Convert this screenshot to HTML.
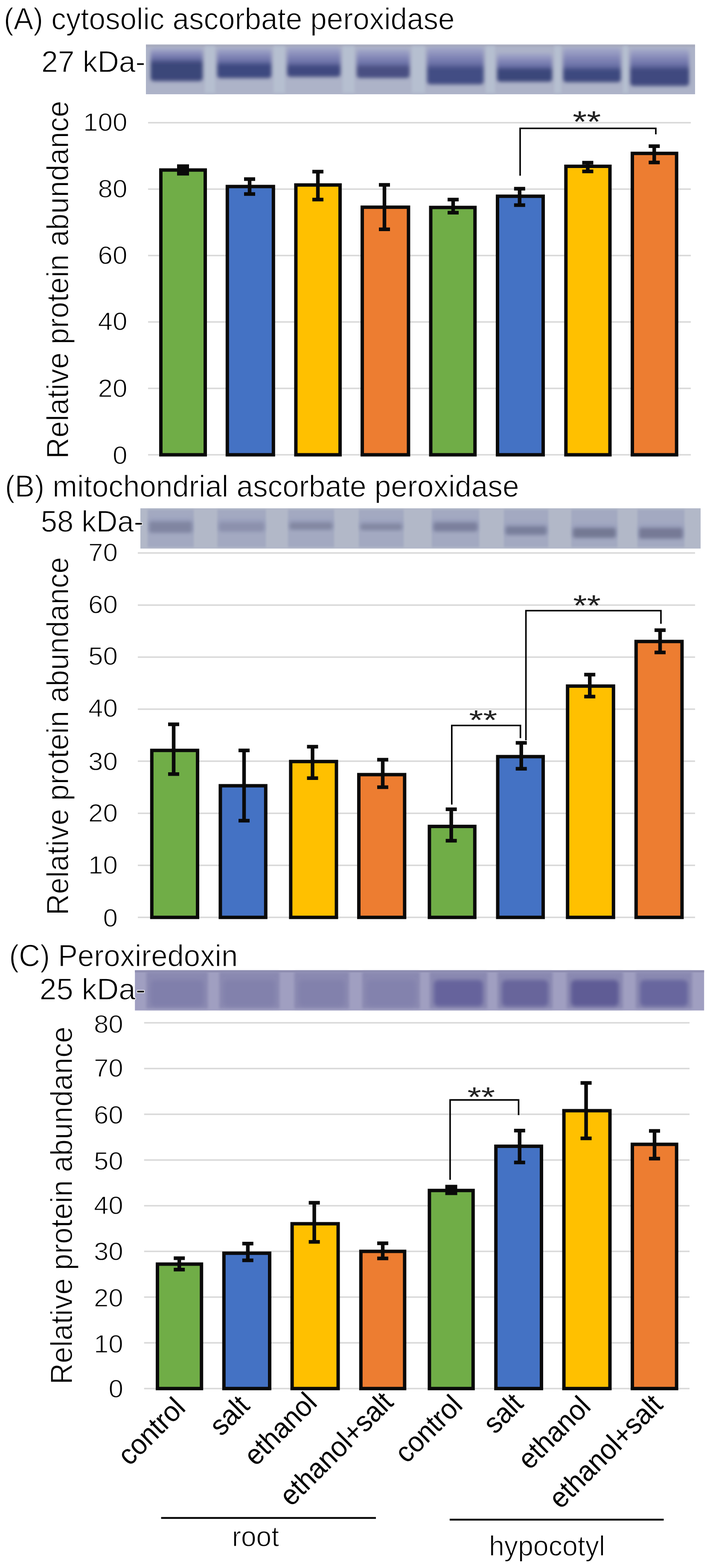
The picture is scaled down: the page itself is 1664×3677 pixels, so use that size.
<!DOCTYPE html>
<html><head><meta charset="utf-8"><title>Figure</title>
<style>html,body{margin:0;padding:0;background:#fff;}svg{display:block;}</style></head>
<body>
<svg width="1664" height="3677" viewBox="0 0 1664 3677">
<defs>
<filter id="blur3" x="-20%" y="-40%" width="140%" height="180%"><feGaussianBlur stdDeviation="3"/></filter>
<filter id="blur2" x="-20%" y="-40%" width="140%" height="180%"><feGaussianBlur stdDeviation="2"/></filter>
<filter id="blur4" x="-20%" y="-40%" width="140%" height="180%"><feGaussianBlur stdDeviation="3.5"/></filter>
<filter id="thin" x="0" y="0" width="100%" height="100%" filterUnits="userSpaceOnUse"><feMorphology operator="erode" radius="0.25"/></filter>
<filter id="blur45" x="-20%" y="-40%" width="140%" height="180%"><feGaussianBlur stdDeviation="4.2"/></filter>
<filter id="blur5" x="-20%" y="-40%" width="140%" height="180%"><feGaussianBlur stdDeviation="5"/></filter>
<linearGradient id="bandA" x1="0" y1="0" x2="0" y2="1">
 <stop offset="0" stop-color="#9aa0c4" stop-opacity="0.3"/>
 <stop offset="0.3" stop-color="#7b80ac"/>
 <stop offset="0.55" stop-color="#4a5288"/>
 <stop offset="0.8" stop-color="#3a4373"/>
 <stop offset="1" stop-color="#4a5080"/>
</linearGradient>
<linearGradient id="bandB" x1="0" y1="0" x2="0" y2="1">
 <stop offset="0" stop-color="#a0a5c0" stop-opacity="0"/>
 <stop offset="0.45" stop-color="#8a8fae"/>
 <stop offset="0.7" stop-color="#757a9c"/>
 <stop offset="1" stop-color="#9aa0bc" stop-opacity="0"/>
</linearGradient>
</defs>
<rect width="1664" height="3677" fill="#fff"/>
<line x1="347" y1="1066.5" x2="1619" y2="1066.5" stroke="#d9d9d9" stroke-width="3.5"/>
<line x1="347" y1="910.8" x2="1619" y2="910.8" stroke="#d9d9d9" stroke-width="3.5"/>
<line x1="347" y1="755.0" x2="1619" y2="755.0" stroke="#d9d9d9" stroke-width="3.5"/>
<line x1="347" y1="599.3" x2="1619" y2="599.3" stroke="#d9d9d9" stroke-width="3.5"/>
<line x1="347" y1="443.5" x2="1619" y2="443.5" stroke="#d9d9d9" stroke-width="3.5"/>
<line x1="347" y1="287.8" x2="1619" y2="287.8" stroke="#d9d9d9" stroke-width="3.5"/>
<rect x="377.0" y="398.7" width="104.0" height="667.8" fill="#70ad47" stroke="#0a0a0a" stroke-width="8"/>
<rect x="532.8" y="437.4" width="108.0" height="629.1" fill="#4472c4" stroke="#0a0a0a" stroke-width="8"/>
<rect x="693.4" y="433.8" width="103.6" height="632.7" fill="#ffc000" stroke="#0a0a0a" stroke-width="8"/>
<rect x="849.0" y="485.9" width="108.4" height="580.6" fill="#ed7d31" stroke="#0a0a0a" stroke-width="8"/>
<rect x="1009.5" y="486.5" width="103.7" height="580.0" fill="#70ad47" stroke="#0a0a0a" stroke-width="8"/>
<rect x="1166.0" y="460.2" width="107.0" height="606.3" fill="#4472c4" stroke="#0a0a0a" stroke-width="8"/>
<rect x="1326.3" y="390.0" width="103.2" height="676.5" fill="#ffc000" stroke="#0a0a0a" stroke-width="8"/>
<rect x="1482.0" y="359.7" width="103.7" height="706.8" fill="#ed7d31" stroke="#0a0a0a" stroke-width="8"/>
<rect x="415.0" y="385.4" width="28" height="26.2" fill="#0a0a0a"/>
<path d="M572.0 420.0H598.0M585.0 420.0V455.0M572.0 455.0H598.0" stroke="#0a0a0a" stroke-width="8.5" fill="none"/>
<path d="M732.0 402.5H758.0M745.0 402.5V468.0M732.0 468.0H758.0" stroke="#0a0a0a" stroke-width="8.5" fill="none"/>
<path d="M888.0 433.5H914.0M901.0 433.5V537.7M888.0 537.7H914.0" stroke="#0a0a0a" stroke-width="8.5" fill="none"/>
<path d="M1049.0 468.0H1075.0M1062.0 468.0V498.8M1049.0 498.8H1075.0" stroke="#0a0a0a" stroke-width="8.5" fill="none"/>
<path d="M1204.8 442.4H1230.8M1217.8 442.4V481.0M1204.8 481.0H1230.8" stroke="#0a0a0a" stroke-width="8.5" fill="none"/>
<path d="M1364.5 381.4H1390.5M1377.5 381.4V401.9M1364.5 401.9H1390.5" stroke="#0a0a0a" stroke-width="8.5" fill="none"/>
<path d="M1520.3 342.7H1546.3M1533.3 342.7V381.0M1520.3 381.0H1546.3" stroke="#0a0a0a" stroke-width="8.5" fill="none"/>
<path d="M1219 412V301H1537V315" stroke="#000" stroke-width="3.6" fill="none"/>
<line x1="323" y1="2151.3" x2="1629" y2="2151.3" stroke="#d9d9d9" stroke-width="3.5"/>
<line x1="323" y1="2029.2" x2="1629" y2="2029.2" stroke="#d9d9d9" stroke-width="3.5"/>
<line x1="323" y1="1907.2" x2="1629" y2="1907.2" stroke="#d9d9d9" stroke-width="3.5"/>
<line x1="323" y1="1785.1" x2="1629" y2="1785.1" stroke="#d9d9d9" stroke-width="3.5"/>
<line x1="323" y1="1663.0" x2="1629" y2="1663.0" stroke="#d9d9d9" stroke-width="3.5"/>
<line x1="323" y1="1541.0" x2="1629" y2="1541.0" stroke="#d9d9d9" stroke-width="3.5"/>
<line x1="323" y1="1418.9" x2="1629" y2="1418.9" stroke="#d9d9d9" stroke-width="3.5"/>
<line x1="323" y1="1296.8" x2="1629" y2="1296.8" stroke="#d9d9d9" stroke-width="3.5"/>
<rect x="355.8" y="1759.7" width="107.2" height="391.6" fill="#70ad47" stroke="#0a0a0a" stroke-width="8"/>
<rect x="516.4" y="1842.6" width="106.4" height="308.7" fill="#4472c4" stroke="#0a0a0a" stroke-width="8"/>
<rect x="681.3" y="1785.8" width="107.2" height="365.5" fill="#ffc000" stroke="#0a0a0a" stroke-width="8"/>
<rect x="841.0" y="1816.5" width="107.3" height="334.8" fill="#ed7d31" stroke="#0a0a0a" stroke-width="8"/>
<rect x="1006.4" y="1938.0" width="106.4" height="213.3" fill="#70ad47" stroke="#0a0a0a" stroke-width="8"/>
<rect x="1166.5" y="1774.3" width="106.5" height="377.0" fill="#4472c4" stroke="#0a0a0a" stroke-width="8"/>
<rect x="1330.2" y="1608.9" width="107.6" height="542.4" fill="#ffc000" stroke="#0a0a0a" stroke-width="8"/>
<rect x="1490.8" y="1504.3" width="107.6" height="647.0" fill="#ed7d31" stroke="#0a0a0a" stroke-width="8"/>
<path d="M394.0 1698.5H420.0M407.0 1698.5V1815.3M394.0 1815.3H420.0" stroke="#0a0a0a" stroke-width="8.5" fill="none"/>
<path d="M559.0 1759.7H585.0M572.0 1759.7V1924.6M559.0 1924.6H585.0" stroke="#0a0a0a" stroke-width="8.5" fill="none"/>
<path d="M719.5 1751.0H745.5M732.5 1751.0V1824.8M719.5 1824.8H745.5" stroke="#0a0a0a" stroke-width="8.5" fill="none"/>
<path d="M884.0 1781.4H910.0M897.0 1781.4V1846.0M884.0 1846.0H910.0" stroke="#0a0a0a" stroke-width="8.5" fill="none"/>
<path d="M1044.6 1897.7H1070.6M1057.6 1897.7V1971.5M1044.6 1971.5H1070.6" stroke="#0a0a0a" stroke-width="8.5" fill="none"/>
<path d="M1208.7 1742.0H1234.7M1221.7 1742.0V1802.7M1208.7 1802.7H1234.7" stroke="#0a0a0a" stroke-width="8.5" fill="none"/>
<path d="M1369.2 1582.0H1395.2M1382.2 1582.0V1633.6M1369.2 1633.6H1395.2" stroke="#0a0a0a" stroke-width="8.5" fill="none"/>
<path d="M1534.0 1477.8H1560.0M1547.0 1477.8V1530.0M1534.0 1530.0H1560.0" stroke="#0a0a0a" stroke-width="8.5" fill="none"/>
<path d="M1058.8 1886.7V1701.3H1219.7V1731" stroke="#000" stroke-width="3.6" fill="none"/>
<path d="M1232.6 1736V1432H1549V1462.8" stroke="#000" stroke-width="3.6" fill="none"/>
<line x1="337.7" y1="3256.2" x2="1616" y2="3256.2" stroke="#d9d9d9" stroke-width="3.5"/>
<line x1="337.7" y1="3149.0" x2="1616" y2="3149.0" stroke="#d9d9d9" stroke-width="3.5"/>
<line x1="337.7" y1="3041.8" x2="1616" y2="3041.8" stroke="#d9d9d9" stroke-width="3.5"/>
<line x1="337.7" y1="2934.6" x2="1616" y2="2934.6" stroke="#d9d9d9" stroke-width="3.5"/>
<line x1="337.7" y1="2827.4" x2="1616" y2="2827.4" stroke="#d9d9d9" stroke-width="3.5"/>
<line x1="337.7" y1="2720.2" x2="1616" y2="2720.2" stroke="#d9d9d9" stroke-width="3.5"/>
<line x1="337.7" y1="2613.0" x2="1616" y2="2613.0" stroke="#d9d9d9" stroke-width="3.5"/>
<line x1="337.7" y1="2505.8" x2="1616" y2="2505.8" stroke="#d9d9d9" stroke-width="3.5"/>
<line x1="337.7" y1="2398.6" x2="1616" y2="2398.6" stroke="#d9d9d9" stroke-width="3.5"/>
<rect x="369.0" y="2964.4" width="103.2" height="291.8" fill="#70ad47" stroke="#0a0a0a" stroke-width="8"/>
<rect x="524.8" y="2938.8" width="107.2" height="317.4" fill="#4472c4" stroke="#0a0a0a" stroke-width="8"/>
<rect x="684.6" y="2869.7" width="107.9" height="386.5" fill="#ffc000" stroke="#0a0a0a" stroke-width="8"/>
<rect x="845.8" y="2934.5" width="102.5" height="321.7" fill="#ed7d31" stroke="#0a0a0a" stroke-width="8"/>
<rect x="1006.4" y="2791.7" width="102.4" height="464.5" fill="#70ad47" stroke="#0a0a0a" stroke-width="8"/>
<rect x="1162.2" y="2688.0" width="106.8" height="568.2" fill="#4472c4" stroke="#0a0a0a" stroke-width="8"/>
<rect x="1321.6" y="2604.6" width="107.9" height="651.6" fill="#ffc000" stroke="#0a0a0a" stroke-width="8"/>
<rect x="1482.0" y="2683.5" width="103.7" height="572.7" fill="#ed7d31" stroke="#0a0a0a" stroke-width="8"/>
<path d="M407.2 2950.6H433.2M420.2 2950.6V2977.3M407.2 2977.3H433.2" stroke="#0a0a0a" stroke-width="8.5" fill="none"/>
<path d="M567.8 2916.3H593.8M580.8 2916.3V2955.6M567.8 2955.6H593.8" stroke="#0a0a0a" stroke-width="8.5" fill="none"/>
<path d="M723.6 2820.4H749.6M736.6 2820.4V2912.2M723.6 2912.2H749.6" stroke="#0a0a0a" stroke-width="8.5" fill="none"/>
<path d="M884.0 2915.6H910.0M897.0 2915.6V2951.0M884.0 2951.0H910.0" stroke="#0a0a0a" stroke-width="8.5" fill="none"/>
<rect x="1043.6" y="2778.4" width="28" height="24.1" fill="#0a0a0a"/>
<path d="M1204.8 2651.3H1230.8M1217.8 2651.3V2726.1M1204.8 2726.1H1230.8" stroke="#0a0a0a" stroke-width="8.5" fill="none"/>
<path d="M1360.6 2539.5H1386.6M1373.6 2539.5V2669.6M1360.6 2669.6H1386.6" stroke="#0a0a0a" stroke-width="8.5" fill="none"/>
<path d="M1521.0 2652.0H1547.0M1534.0 2652.0V2717.0M1521.0 2717.0H1547.0" stroke="#0a0a0a" stroke-width="8.5" fill="none"/>
<path d="M1054.9 2766.8V2579.4H1215.4V2615" stroke="#000" stroke-width="3.6" fill="none"/>
<rect x="342" y="104.5" width="1287" height="116.5" fill="#adb3c8"/>
<rect x="342" y="104.5" width="1287" height="6" fill="#a7abbd" opacity="0.8"/>
<rect x="480" y="108" width="24" height="110" fill="#b6bfd0" filter="url(#blur3)"/>
<rect x="641" y="108" width="27" height="110" fill="#b6bfd0" filter="url(#blur3)"/>
<rect x="803" y="108" width="28" height="110" fill="#b6bfd0" filter="url(#blur3)"/>
<rect x="965" y="108" width="31" height="110" fill="#b6bfd0" filter="url(#blur3)"/>
<rect x="1138.5" y="108" width="21.5" height="110" fill="#b6bfd0" filter="url(#blur3)"/>
<rect x="1299" y="108" width="16" height="110" fill="#b6bfd0" filter="url(#blur3)"/>
<rect x="1460" y="108" width="12" height="110" fill="#b6bfd0" filter="url(#blur3)"/>
<linearGradient id="gA0" x1="0" y1="0" x2="0" y2="1"><stop offset="0" stop-color="#9ca1c8" stop-opacity="0.6"/><stop offset="0.154" stop-color="#888cba"/><stop offset="0.307" stop-color="#6c72a8"/><stop offset="0.457" stop-color="#3b4679"/><stop offset="0.9" stop-color="#3b4679"/><stop offset="1" stop-color="#4a5283"/></linearGradient>
<rect x="353" y="113.6" width="122" height="76.80000000000001" rx="7" fill="url(#gA0)" filter="url(#blur45)"/>
<linearGradient id="gA1" x1="0" y1="0" x2="0" y2="1"><stop offset="0" stop-color="#9ca1c8" stop-opacity="0.6"/><stop offset="0.216" stop-color="#888cba"/><stop offset="0.432" stop-color="#6c72a8"/><stop offset="0.582" stop-color="#3c4880"/><stop offset="0.9" stop-color="#3c4880"/><stop offset="1" stop-color="#4a5283"/></linearGradient>
<rect x="509" y="113" width="127" height="70.5" rx="7" fill="url(#gA1)" filter="url(#blur45)"/>
<linearGradient id="gA2" x1="0" y1="0" x2="0" y2="1"><stop offset="0" stop-color="#9ca1c8" stop-opacity="0.6"/><stop offset="0.259" stop-color="#888cba"/><stop offset="0.517" stop-color="#6c72a8"/><stop offset="0.667" stop-color="#414a80"/><stop offset="0.9" stop-color="#414a80"/><stop offset="1" stop-color="#4a5283"/></linearGradient>
<rect x="673" y="110" width="125" height="70.6" rx="7" fill="url(#gA2)" filter="url(#blur45)"/>
<linearGradient id="gA3" x1="0" y1="0" x2="0" y2="1"><stop offset="0" stop-color="#9ca1c8" stop-opacity="0.6"/><stop offset="0.250" stop-color="#888cba"/><stop offset="0.500" stop-color="#6c72a8"/><stop offset="0.650" stop-color="#494f82"/><stop offset="0.9" stop-color="#494f82"/><stop offset="1" stop-color="#4a5283"/></linearGradient>
<rect x="836" y="115" width="124" height="68" rx="7" fill="url(#gA3)" filter="url(#blur45)"/>
<linearGradient id="gA4" x1="0" y1="0" x2="0" y2="1"><stop offset="0" stop-color="#9ca1c8" stop-opacity="0.6"/><stop offset="0.221" stop-color="#888cba"/><stop offset="0.442" stop-color="#6c72a8"/><stop offset="0.592" stop-color="#434d84"/><stop offset="0.9" stop-color="#434d84"/><stop offset="1" stop-color="#4a5283"/></linearGradient>
<rect x="1001" y="110" width="132.5" height="88" rx="7" fill="url(#gA4)" filter="url(#blur45)"/>
<linearGradient id="gA5" x1="0" y1="0" x2="0" y2="1"><stop offset="0" stop-color="#9ca1c8" stop-opacity="0.6"/><stop offset="0.223" stop-color="#888cba"/><stop offset="0.446" stop-color="#6c72a8"/><stop offset="0.596" stop-color="#3b467a"/><stop offset="0.9" stop-color="#3b467a"/><stop offset="1" stop-color="#4a5283"/></linearGradient>
<rect x="1165" y="125" width="129" height="67" rx="7" fill="url(#gA5)" filter="url(#blur45)"/>
<linearGradient id="gA6" x1="0" y1="0" x2="0" y2="1"><stop offset="0" stop-color="#9ca1c8" stop-opacity="0.6"/><stop offset="0.259" stop-color="#888cba"/><stop offset="0.519" stop-color="#6c72a8"/><stop offset="0.669" stop-color="#3d497f"/><stop offset="0.9" stop-color="#3d497f"/><stop offset="1" stop-color="#4a5283"/></linearGradient>
<rect x="1320" y="112" width="135" height="81" rx="7" fill="url(#gA6)" filter="url(#blur45)"/>
<linearGradient id="gA7" x1="0" y1="0" x2="0" y2="1"><stop offset="0" stop-color="#9ca1c8" stop-opacity="0.6"/><stop offset="0.210" stop-color="#888cba"/><stop offset="0.419" stop-color="#6c72a8"/><stop offset="0.569" stop-color="#404a7f"/><stop offset="0.9" stop-color="#404a7f"/><stop offset="1" stop-color="#4a5283"/></linearGradient>
<rect x="1477" y="115" width="138" height="86.69999999999999" rx="7" fill="url(#gA7)" filter="url(#blur45)"/>
<rect x="329" y="1192" width="1313" height="94.4" fill="#b2b8c8"/>
<rect x="346" y="1195" width="108" height="88" fill="#a3a9c1" filter="url(#blur2)"/>
<rect x="349" y="1214" width="102" height="35" rx="5" fill="#9aa0bd" opacity="0.8" filter="url(#blur45)"/>
<rect x="350" y="1223" width="100" height="26" rx="5" fill="#7e839f" opacity="0.9" filter="url(#blur45)"/>
<rect x="509.5" y="1195" width="113.5" height="88" fill="#a3a9c1" filter="url(#blur2)"/>
<rect x="512.5" y="1216" width="107.5" height="30" rx="5" fill="#9aa0bd" opacity="0.8" filter="url(#blur45)"/>
<rect x="513.5" y="1225" width="105.5" height="21" rx="5" fill="#8a8fab" opacity="0.9" filter="url(#blur45)"/>
<rect x="675" y="1195" width="108" height="88" fill="#a3a9c1" filter="url(#blur2)"/>
<rect x="678" y="1216" width="102" height="26" rx="5" fill="#9aa0bd" opacity="0.8" filter="url(#blur45)"/>
<rect x="679" y="1225" width="100" height="17" rx="5" fill="#80859f" opacity="0.9" filter="url(#blur45)"/>
<rect x="841" y="1195" width="105" height="88" fill="#a3a9c1" filter="url(#blur2)"/>
<rect x="844" y="1219" width="99" height="24" rx="5" fill="#9aa0bd" opacity="0.8" filter="url(#blur45)"/>
<rect x="845" y="1228" width="97" height="15" rx="5" fill="#80859f" opacity="0.9" filter="url(#blur45)"/>
<rect x="1012" y="1195" width="111" height="88" fill="#a3a9c1" filter="url(#blur2)"/>
<rect x="1015" y="1216" width="105" height="30" rx="5" fill="#9aa0bd" opacity="0.8" filter="url(#blur45)"/>
<rect x="1016" y="1225" width="103" height="21" rx="5" fill="#787d9a" opacity="0.9" filter="url(#blur45)"/>
<rect x="1181" y="1195" width="104" height="88" fill="#a3a9c1" filter="url(#blur2)"/>
<rect x="1184" y="1225" width="98" height="29" rx="5" fill="#9aa0bd" opacity="0.8" filter="url(#blur45)"/>
<rect x="1185" y="1234" width="96" height="20" rx="5" fill="#767b98" opacity="0.9" filter="url(#blur45)"/>
<rect x="1339" y="1195" width="108" height="88" fill="#a3a9c1" filter="url(#blur2)"/>
<rect x="1342" y="1229" width="102" height="32" rx="5" fill="#9aa0bd" opacity="0.8" filter="url(#blur45)"/>
<rect x="1343" y="1238" width="100" height="23" rx="5" fill="#70748f" opacity="0.9" filter="url(#blur45)"/>
<rect x="1494" y="1195" width="110" height="88" fill="#a3a9c1" filter="url(#blur2)"/>
<rect x="1497" y="1229" width="104" height="34" rx="5" fill="#9aa0bd" opacity="0.8" filter="url(#blur45)"/>
<rect x="1498" y="1238" width="102" height="25" rx="5" fill="#727692" opacity="0.9" filter="url(#blur45)"/>
<rect x="316.2" y="2275.3" width="1334" height="94.3" fill="#a09fc1"/>
<rect x="316.2" y="2275.3" width="1334" height="5" fill="#8f8eb0"/>
<rect x="343" y="2279" width="144" height="86" fill="#8a89b1" filter="url(#blur3)"/>
<rect x="353" y="2298" width="124" height="62" rx="10" fill="#807fab" filter="url(#blur5)"/>
<rect x="514" y="2279" width="141" height="86" fill="#8a89b1" filter="url(#blur3)"/>
<rect x="524" y="2298" width="121" height="62" rx="10" fill="#8281ac" filter="url(#blur5)"/>
<rect x="690" y="2279" width="128" height="86" fill="#8a89b1" filter="url(#blur3)"/>
<rect x="700" y="2298" width="108" height="62" rx="10" fill="#8281ac" filter="url(#blur5)"/>
<rect x="849" y="2279" width="135" height="86" fill="#8a89b1" filter="url(#blur3)"/>
<rect x="859" y="2298" width="115" height="62" rx="10" fill="#8382ad" filter="url(#blur5)"/>
<rect x="1007" y="2279" width="135" height="86" fill="#8a89b1" filter="url(#blur3)"/>
<rect x="1017" y="2298" width="115" height="62" rx="10" fill="#66649c" filter="url(#blur5)"/>
<rect x="1166" y="2279" width="129" height="86" fill="#8a89b1" filter="url(#blur3)"/>
<rect x="1176" y="2298" width="109" height="62" rx="10" fill="#67659b" filter="url(#blur5)"/>
<rect x="1328" y="2279" width="132" height="86" fill="#8a89b1" filter="url(#blur3)"/>
<rect x="1338" y="2298" width="112" height="62" rx="10" fill="#5e5c95" filter="url(#blur5)"/>
<rect x="1490" y="2279" width="132" height="86" fill="#8a89b1" filter="url(#blur3)"/>
<rect x="1500" y="2298" width="112" height="62" rx="10" fill="#68669e" filter="url(#blur5)"/>
<line x1="377.6" y1="3559.6" x2="881" y2="3559.6" stroke="#000" stroke-width="4.2"/>
<line x1="1053.9" y1="3563.6" x2="1555.5" y2="3563.6" stroke="#000" stroke-width="4.2"/>
<g font-family="Liberation Sans, Arial, sans-serif" fill="#000" stroke="#fff" stroke-width="1.3" stroke-linejoin="round">
<text x="8.9" y="68.6" font-size="71.5" textLength="1056.6" lengthAdjust="spacingAndGlyphs" fill="#000" >(A) cytosolic ascorbate peroxidase</text>
<text x="11.8" y="1165.3" font-size="71.5" textLength="1204.7" lengthAdjust="spacingAndGlyphs" fill="#000" >(B) mitochondrial ascorbate peroxidase</text>
<text x="21.4" y="2265.5" font-size="71.5" textLength="535.8" lengthAdjust="spacingAndGlyphs" fill="#000" >(C) Peroxiredoxin</text>
<text x="96.9" y="169.0" font-size="71" textLength="243.9" lengthAdjust="spacingAndGlyphs" fill="#000" >27 kDa-</text>
<text x="95.7" y="1247.4" font-size="71" textLength="240.8" lengthAdjust="spacingAndGlyphs" fill="#000" >58 kDa-</text>
<text x="92.7" y="2343.7" font-size="71" textLength="248.6" lengthAdjust="spacingAndGlyphs" fill="#000" >25 kDa-</text>
<g transform="translate(160.3,1070.3) rotate(-90)"><text x="-5.5" y="0" font-size="73" textLength="839.4" lengthAdjust="spacingAndGlyphs">Relative protein abundance</text></g>
<g transform="translate(160.3,2140.7) rotate(-90)"><text x="-5.5" y="0" font-size="73" textLength="839.8" lengthAdjust="spacingAndGlyphs">Relative protein abundance</text></g>
<g transform="translate(168.8,3241.1) rotate(-90)"><text x="-5.5" y="0" font-size="73" textLength="839.3" lengthAdjust="spacingAndGlyphs">Relative protein abundance</text></g>
<text x="264.0" y="1087.5" font-size="59" textLength="34.5" lengthAdjust="spacingAndGlyphs" fill="#000" >0</text>
<text x="229.5" y="930.8" font-size="59" textLength="68.9" lengthAdjust="spacingAndGlyphs" fill="#000" >20</text>
<text x="229.5" y="774.3" font-size="59" textLength="68.9" lengthAdjust="spacingAndGlyphs" fill="#000" >40</text>
<text x="229.5" y="619.3" font-size="59" textLength="68.9" lengthAdjust="spacingAndGlyphs" fill="#000" >60</text>
<text x="229.5" y="462.9" font-size="59" textLength="68.9" lengthAdjust="spacingAndGlyphs" fill="#000" >80</text>
<text x="195.1" y="306.6" font-size="59" textLength="103.4" lengthAdjust="spacingAndGlyphs" fill="#000" >100</text>
<text x="241.6" y="2172.5" font-size="59" textLength="34.5" lengthAdjust="spacingAndGlyphs" fill="#000" >0</text>
<text x="207.1" y="2048.6" font-size="59" textLength="68.9" lengthAdjust="spacingAndGlyphs" fill="#000" >10</text>
<text x="207.1" y="1927.0" font-size="59" textLength="68.9" lengthAdjust="spacingAndGlyphs" fill="#000" >20</text>
<text x="207.1" y="1805.8" font-size="59" textLength="68.9" lengthAdjust="spacingAndGlyphs" fill="#000" >30</text>
<text x="207.1" y="1680.7" font-size="59" textLength="68.9" lengthAdjust="spacingAndGlyphs" fill="#000" >40</text>
<text x="207.1" y="1559.4" font-size="59" textLength="68.9" lengthAdjust="spacingAndGlyphs" fill="#000" >50</text>
<text x="207.1" y="1437.5" font-size="59" textLength="68.9" lengthAdjust="spacingAndGlyphs" fill="#000" >60</text>
<text x="207.1" y="1316.4" font-size="59" textLength="68.9" lengthAdjust="spacingAndGlyphs" fill="#000" >70</text>
<text x="254.4" y="3277.2" font-size="59" textLength="34.5" lengthAdjust="spacingAndGlyphs" fill="#000" >0</text>
<text x="219.9" y="3171.8" font-size="59" textLength="68.9" lengthAdjust="spacingAndGlyphs" fill="#000" >10</text>
<text x="219.9" y="3063.5" font-size="59" textLength="68.9" lengthAdjust="spacingAndGlyphs" fill="#000" >20</text>
<text x="219.9" y="2955.3" font-size="59" textLength="68.9" lengthAdjust="spacingAndGlyphs" fill="#000" >30</text>
<text x="219.9" y="2846.8" font-size="59" textLength="68.9" lengthAdjust="spacingAndGlyphs" fill="#000" >40</text>
<text x="219.9" y="2742.5" font-size="59" textLength="68.9" lengthAdjust="spacingAndGlyphs" fill="#000" >50</text>
<text x="219.9" y="2634.5" font-size="59" textLength="68.9" lengthAdjust="spacingAndGlyphs" fill="#000" >60</text>
<text x="219.9" y="2525.3" font-size="59" textLength="68.9" lengthAdjust="spacingAndGlyphs" fill="#000" >70</text>
<text x="219.9" y="2422.2" font-size="59" textLength="68.9" lengthAdjust="spacingAndGlyphs" fill="#000" >80</text>
<text x="543.8" y="3626.3" font-size="66" textLength="110.1" lengthAdjust="spacingAndGlyphs" fill="#000" >root</text>
<text x="1145.9" y="3647.5" font-size="66" textLength="272.3" lengthAdjust="spacingAndGlyphs" fill="#000" >hypocotyl</text>
</g>
<g font-family="Liberation Sans, Arial, sans-serif">
<g transform="translate(435.2,3307.9) rotate(-45)"><text x="-186.1" y="0" font-size="67" textLength="190.0" lengthAdjust="spacingAndGlyphs">control</text></g>
<g transform="translate(588.4,3300.3) rotate(-45)"><text x="-98.6" y="0" font-size="67" textLength="98.5" lengthAdjust="spacingAndGlyphs">salt</text></g>
<g transform="translate(743.5,3296.2) rotate(-45)"><text x="-203.7" y="0" font-size="67" textLength="207.7" lengthAdjust="spacingAndGlyphs">ethanol</text></g>
<g transform="translate(925.4,3292.0) rotate(-45)"><text x="-343.3" y="0" font-size="67" textLength="343.1" lengthAdjust="spacingAndGlyphs">ethanol+salt</text></g>
<g transform="translate(1084.7,3302.1) rotate(-45)"><text x="-186.1" y="0" font-size="67" textLength="190.0" lengthAdjust="spacingAndGlyphs">control</text></g>
<g transform="translate(1230.0,3295.3) rotate(-45)"><text x="-98.6" y="0" font-size="67" textLength="98.5" lengthAdjust="spacingAndGlyphs">salt</text></g>
<g transform="translate(1385.2,3304.9) rotate(-45)"><text x="-203.7" y="0" font-size="67" textLength="207.7" lengthAdjust="spacingAndGlyphs">ethanol</text></g>
<g transform="translate(1556.8,3298.0) rotate(-45)"><text x="-343.3" y="0" font-size="67" textLength="343.1" lengthAdjust="spacingAndGlyphs">ethanol+salt</text></g>
<text x="1342.2" y="309.5" font-size="71.1" textLength="66.1" lengthAdjust="spacingAndGlyphs" fill="#222" stroke="none">**</text>
<text x="1099.2" y="1711.0" font-size="65.3" textLength="66.1" lengthAdjust="spacingAndGlyphs" fill="#222" stroke="none">**</text>
<text x="1343.2" y="1443.3" font-size="68.9" textLength="64.6" lengthAdjust="spacingAndGlyphs" fill="#222" stroke="none">**</text>
<text x="1095.5" y="2595.0" font-size="65.3" textLength="64.7" lengthAdjust="spacingAndGlyphs" fill="#222" stroke="none">**</text>
</g>
</svg>
</body></html>
